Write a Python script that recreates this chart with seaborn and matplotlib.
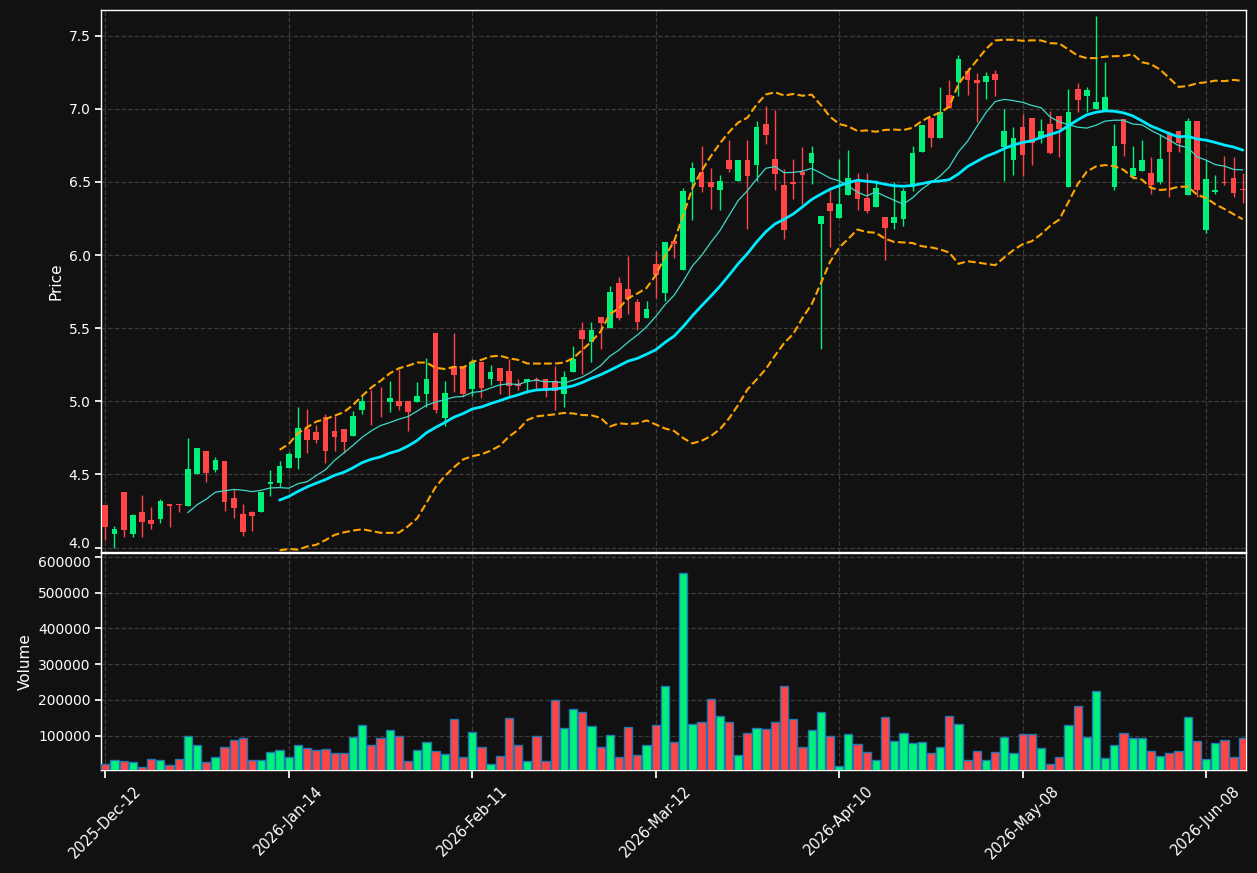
import numpy as np
import pandas as pd
import matplotlib
matplotlib.use("Agg")
import matplotlib.pyplot as plt
import matplotlib.transforms as mtransforms
import seaborn as sns

# ---------------- data ----------------
opens = [4.292, 4.096, 4.381, 4.096, 4.244, 4.189, 4.196, 4.299, 4.299, 4.287,
         4.500, 4.661, 4.531, 4.593, 4.340, 4.231, 4.244, 4.246, 4.438, 4.445,
         4.547, 4.616, 4.812, 4.791, 4.892, 4.798, 4.812, 4.766, 4.944, 5.005,
         5.003, 4.999, 5.003, 5.003, 4.999, 5.053, 5.469, 4.889, 5.245, 5.245,
         5.086, 5.270, 5.156, 5.227, 5.209, 5.117, 5.129, 5.150, 5.152, 5.138,
         5.047, 5.202, 5.487, 5.409, 5.576, 5.505, 5.808, 5.767, 5.678, 5.567,
         5.941, 5.744, 6.096, 5.895, 6.497, 6.570, 6.501, 6.442, 6.652, 6.504,
         6.652, 6.613, 6.898, 6.656, 6.479, 6.501, 6.570, 6.627, 6.216, 6.355,
         6.257, 6.408, 6.501, 6.392, 6.326, 6.262, 6.223, 6.244, 6.463, 6.702,
         6.939, 6.804, 7.094, 7.187, 7.261, 7.197, 7.187, 7.240, 6.736, 6.647,
         6.878, 6.939, 6.800, 6.898, 6.953, 6.463, 7.135, 7.085, 7.001, 6.994,
         6.463, 6.932, 6.538, 6.572, 6.563, 6.501, 6.830, 6.850, 6.408, 6.919,
         6.173, 6.433, 6.500, 6.529, 6.450]
highs = [4.292, 4.151, 4.381, 4.231, 4.358, 4.278, 4.333, 4.299, 4.299, 4.748,
         4.680, 4.661, 4.618, 4.593, 4.402, 4.297, 4.249, 4.381, 4.531, 4.593,
         4.652, 4.960, 4.947, 4.835, 4.917, 4.899, 4.812, 4.937, 5.035, 5.076,
         5.097, 5.138, 5.220, 5.003, 5.133, 5.295, 5.469, 5.138, 5.466, 5.245,
         5.289, 5.270, 5.247, 5.227, 5.289, 5.152, 5.152, 5.170, 5.152, 5.241,
         5.206, 5.377, 5.542, 5.546, 5.576, 5.790, 5.849, 5.997, 5.697, 5.683,
         6.027, 6.091, 6.096, 6.458, 6.636, 6.745, 6.595, 6.547, 6.786, 6.652,
         6.786, 6.916, 7.017, 6.994, 6.586, 6.654, 6.739, 6.745, 6.267, 6.447,
         6.656, 6.720, 6.561, 6.561, 6.517, 6.262, 6.497, 6.458, 6.743, 6.891,
         6.939, 7.149, 7.197, 7.370, 7.281, 7.245, 7.249, 7.265, 6.998, 6.875,
         6.962, 6.939, 6.930, 6.982, 6.953, 7.135, 7.176, 7.149, 7.637, 7.320,
         6.896, 6.932, 6.748, 6.789, 6.670, 6.825, 6.848, 6.850, 6.939, 6.919,
         6.652, 6.549, 6.681, 6.674, 6.561]
lows = [4.053, 3.996, 4.075, 4.071, 4.071, 4.126, 4.167, 4.144, 4.242, 4.287,
        4.500, 4.447, 4.516, 4.251, 4.203, 4.078, 4.116, 4.246, 4.356, 4.417,
        4.547, 4.536, 4.645, 4.718, 4.577, 4.664, 4.650, 4.766, 4.917, 4.837,
        4.896, 4.924, 4.942, 4.798, 4.999, 4.960, 4.919, 4.832, 5.067, 5.033,
        5.040, 5.022, 5.111, 5.049, 5.033, 5.079, 5.060, 5.079, 5.033, 4.940,
        4.960, 5.198, 5.188, 5.268, 5.359, 5.505, 5.555, 5.596, 5.489, 5.567,
        5.706, 5.683, 5.982, 5.895, 6.241, 6.431, 6.315, 6.308, 6.570, 6.504,
        6.180, 6.504, 6.761, 6.444, 6.109, 6.383, 6.349, 6.485, 5.357, 6.057,
        6.257, 6.408, 6.308, 6.287, 6.326, 5.966, 6.178, 6.196, 6.435, 6.702,
        6.736, 6.804, 7.003, 7.085, 7.094, 6.912, 7.067, 7.085, 6.504, 6.545,
        6.538, 6.615, 6.766, 6.688, 6.672, 6.463, 6.980, 6.980, 7.001, 6.994,
        6.447, 6.679, 6.520, 6.572, 6.419, 6.488, 6.397, 6.702, 6.408, 6.397,
        6.150, 6.415, 6.477, 6.397, 6.356]
closes = [4.144, 4.128, 4.123, 4.224, 4.178, 4.162, 4.319, 4.285, 4.292, 4.538,
          4.680, 4.513, 4.600, 4.315, 4.274, 4.110, 4.219, 4.381, 4.452, 4.559,
          4.641, 4.819, 4.739, 4.739, 4.664, 4.757, 4.725, 4.899, 5.003, 5.000,
          5.000, 5.024, 4.965, 4.924, 5.038, 5.154, 4.944, 5.058, 5.183, 5.053,
          5.272, 5.088, 5.202, 5.136, 5.108, 5.108, 5.152, 5.145, 5.072, 5.069,
          5.165, 5.289, 5.423, 5.487, 5.539, 5.747, 5.573, 5.697, 5.546, 5.631,
          5.867, 6.091, 6.073, 6.440, 6.595, 6.463, 6.463, 6.508, 6.586, 6.652,
          6.538, 6.875, 6.818, 6.558, 6.175, 6.483, 6.545, 6.700, 6.267, 6.303,
          6.351, 6.529, 6.387, 6.305, 6.460, 6.182, 6.262, 6.440, 6.700, 6.891,
          6.798, 6.980, 7.003, 7.340, 7.194, 7.174, 7.226, 7.194, 6.850, 6.802,
          6.686, 6.764, 6.852, 6.698, 6.864, 6.980, 7.058, 7.131, 7.049, 7.081,
          6.748, 6.757, 6.597, 6.652, 6.481, 6.659, 6.702, 6.766, 6.919, 6.442,
          6.522, 6.447, 6.495, 6.428, 6.445]
volumes = [21800, 33000, 30200, 27400, 13400, 35800, 33000, 19000, 35800, 100000,
           74800, 27400, 41300, 69300, 88800, 94400, 33000, 33000, 55300, 60900,
           41300, 74800, 66500, 60900, 63700, 52500, 52500, 97200, 130700, 74800,
           94400, 116800, 100000, 30200, 60900, 83200, 58100, 49700, 147500, 41300,
           111200, 69300, 21800, 44100, 150300, 74800, 30200, 100000, 30200, 200000,
           122300, 175400, 167000, 127900, 69300, 102800, 41300, 125100, 46900, 74800,
           130700, 239700, 83200, 555300, 133500, 139100, 203400, 155900, 139100, 46900,
           108400, 122300, 119600, 139100, 239700, 147500, 69300, 116800, 167000, 100000,
           16200, 105600, 77700, 55300, 33000, 153000, 86000, 108400, 80400, 83200,
           52500, 69300, 155900, 133500, 33000, 58100, 33000, 55300, 97200, 52500,
           105600, 105600, 66500, 21800, 41300, 130700, 183800, 97200, 225700, 38700,
           74800, 108400, 94400, 94400, 58100, 44100, 52500, 58100, 153000, 86000,
           35800, 80400, 88800, 41300, 94400]
tick_labels = ["2025-Dec-12", "2026-Jan-14", "2026-Feb-11", "2026-Mar-12",
               "2026-Apr-10", "2026-May-08", "2026-Jun-08"]
price_ticks = [4.0, 4.5, 5.0, 5.5, 6.0, 6.5, 7.0, 7.5]
volume_ticks = [100000, 200000, 300000, 400000, 500000, 600000]

# ---------------- derived frame ----------------
df = pd.DataFrame({"open": opens, "high": highs, "low": lows,
                   "close": closes, "volume": volumes})
df["idx"] = np.arange(len(df))
df["ma10"] = df["close"].rolling(10).mean()
df["ma20"] = df["close"].rolling(20).mean()
std20 = df["close"].rolling(20).std(ddof=0)
df["upper"] = df["ma20"] + 2 * std20
df["lower"] = df["ma20"] - 2 * std20

BG = "#111111"
UP = "#00f07c"
DOWN = "#ff4545"
GRID = "#3c3c3c"

sns.set_theme(style="dark")
plt.rcParams.update({
    "figure.facecolor": BG, "axes.facecolor": BG, "savefig.facecolor": BG,
    "axes.edgecolor": "white", "axes.labelcolor": "white",
    "xtick.color": "white", "ytick.color": "white", "text.color": "white",
    "axes.grid": True, "grid.color": GRID, "grid.linestyle": "--",
    "grid.linewidth": 0.9, "xtick.bottom": True, "ytick.left": True,
})
plt.rcParams["font.family"] = ["DejaVu Sans"]

fig = plt.figure(figsize=(12.57, 8.73), dpi=100)
ax = fig.add_axes([101 / 1257, 1 - 552 / 873, 1145 / 1257, 542 / 873])
axv = fig.add_axes([101 / 1257, 1 - 770 / 873, 1145 / 1257, 217 / 873], sharex=ax)

up = df["close"] >= df["open"]
colors = np.where(up, UP, DOWN)

# wicks and bodies
ax.vlines(df["idx"], df["low"], df["high"], colors=colors, linewidth=1.0, zorder=2)
body_h = (df["close"] - df["open"]).abs().clip(lower=0.004)
ax.bar(df["idx"], body_h, bottom=np.minimum(df["open"], df["close"]),
       width=0.62, color=colors, linewidth=0, zorder=3)

# moving averages and bands via seaborn
sns.lineplot(data=df, x="idx", y="ma10", ax=ax, color="#3ed8c8", linewidth=0.9, zorder=4)
sns.lineplot(data=df, x="idx", y="ma20", ax=ax, color="#00eaff", linewidth=2.0, zorder=4)
sns.lineplot(data=df, x="idx", y="upper", ax=ax, color="#ffa500", linewidth=1.5,
             linestyle="--", zorder=4)
sns.lineplot(data=df, x="idx", y="lower", ax=ax, color="#ffa500", linewidth=1.5,
             linestyle="--", zorder=4)

# volume
axv.bar(df["idx"], df["volume"], width=0.9, color=colors, edgecolor="#1f77b4",
        linewidth=1.0, zorder=3)

ax.set_xlim(-0.47, 124.35)
ax.set_ylim(3.97, 7.676)
axv.set_ylim(0.3 * df["volume"].min(), 1.1 * df["volume"].max())

ax.set_ylabel("Price", fontsize=11)
ax.set_xlabel("")
axv.set_ylabel("Volume", fontsize=11)
axv.set_xlabel("")

ax.set_yticks(price_ticks)
ax.set_yticklabels([f"{v:.1f}" for v in price_ticks])
axv.set_yticks(volume_ticks)
axv.set_yticklabels([str(v) for v in volume_ticks])

tick_pos = [20 * k for k in range(len(tick_labels))]
axv.set_xticks(tick_pos)
axv.set_xticklabels(tick_labels, rotation=45, ha="center", fontsize=10.5)
plt.setp(ax.get_xticklabels(), visible=False)
ax.tick_params(axis="x", length=0)

for a in (ax, axv):
    a.tick_params(axis="y", labelsize=10, length=4, color="white")
    a.tick_params(axis="x", color="white")
    for s in a.spines.values():
        s.set_color("white")
        s.set_linewidth(1.0)
    a.grid(True, color=GRID, linestyle="--", linewidth=0.9)
    a.set_axisbelow(True)
    leg = a.get_legend()
    if leg:
        leg.remove()

# keep the two labels at the panel join from colliding
lab_low = ax.get_yticklabels()[0]
lab_low.set_transform(lab_low.get_transform() +
                      mtransforms.ScaledTranslation(0, 3.5 / 72, fig.dpi_scale_trans))
lab_top = axv.get_yticklabels()[-1]
lab_top.set_transform(lab_top.get_transform() +
                      mtransforms.ScaledTranslation(0, -3.5 / 72, fig.dpi_scale_trans))

fig.savefig("out.png", dpi=100, facecolor=BG)
